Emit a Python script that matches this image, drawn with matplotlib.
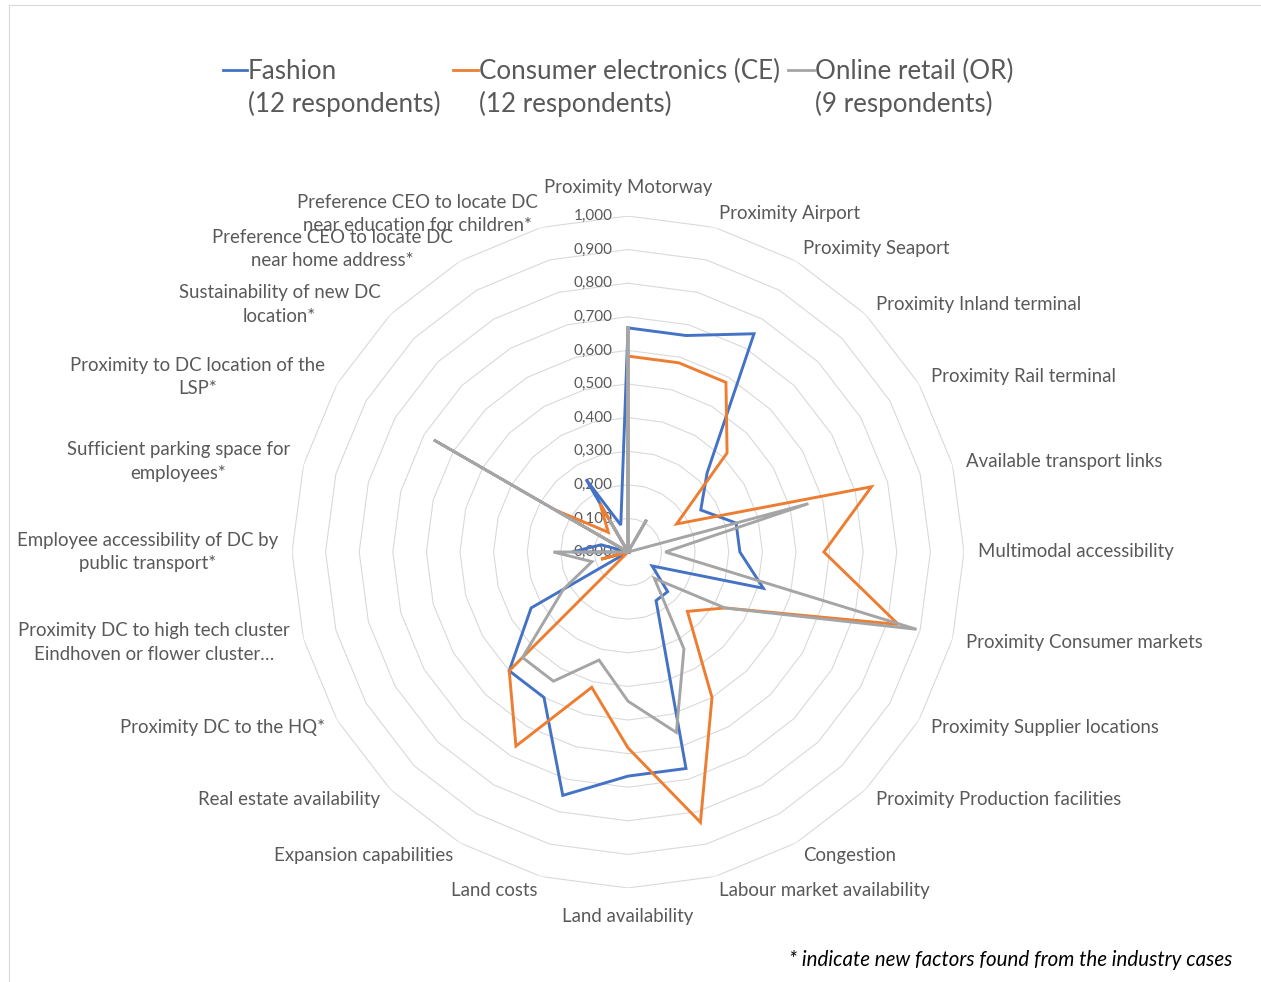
import numpy as np
import matplotlib.pyplot as plt
from matplotlib.patches import Rectangle

plt.rcParams['font.family'] = ['Lato', 'DejaVu Sans']

# location factors, clockwise from the top
factors = [
    "Proximity Motorway",
    "Proximity Airport",
    "Proximity Seaport",
    "Proximity Inland terminal",
    "Proximity Rail terminal",
    "Available transport links",
    "Multimodal accessibility",
    "Proximity Consumer markets",
    "Proximity Supplier locations",
    "Proximity Production facilities",
    "Congestion",
    "Labour market availability",
    "Land availability",
    "Land costs",
    "Expansion capabilities",
    "Real estate availability",
    "Proximity DC to the HQ*",
    "Proximity DC to high tech cluster\nEindhoven or flower cluster\u2026",
    "Employee accessibility of DC by\npublic transport*",
    "Sufficient parking space for\nemployees*",
    "Proximity to DC location of the\nLSP*",
    "Sustainability of new DC\nlocation*",
    "Preference CEO to locate DC\nnear home address*",
    "Preference CEO to locate DC\nnear education for children*",
]

fashion = [0.667, 0.667, 0.750, 0.333, 0.250, 0.333, 0.333, 0.417,
           0.083, 0.167, 0.167, 0.667, 0.667, 0.750, 0.500, 0.500,
           0.333, 0.000, 0.167, 0.083, 0.000, 0.000, 0.250, 0.083]
consumer_electronics = [0.583, 0.583, 0.583, 0.417, 0.167, 0.750, 0.583, 0.833,
                        0.333, 0.250, 0.500, 0.833, 0.583, 0.417, 0.667, 0.500,
                        0.000, 0.083, 0.000, 0.000, 0.250, 0.083, 0.167, 0.000]
online_retail = [0.667, 0.000, 0.111, 0.000, 0.000, 0.556, 0.111, 0.889,
                 0.333, 0.111, 0.333, 0.556, 0.444, 0.333, 0.444, 0.444,
                 0.222, 0.111, 0.222, 0.000, 0.667, 0.000, 0.111, 0.000]

series = [fashion, consumer_electronics, online_retail]
series_names = ["Fashion", "Consumer electronics (CE)", "Online retail (OR)"]
respondents = ["(12 respondents)", "(12 respondents)", "(9 respondents)"]
colors = ["#4472C4", "#ED7D31", "#A5A5A5"]

ring_levels = [0.0, 0.1, 0.2, 0.3, 0.4, 0.5, 0.6, 0.7, 0.8, 0.9, 1.0]
ring_labels = ["0,000", "0,100", "0,200", "0,300", "0,400", "0,500",
               "0,600", "0,700", "0,800", "0,900", "1,000"]

W, H = 1261, 982
fig = plt.figure(figsize=(W / 100, H / 100), dpi=100)

# chart frame
fig.patches.append(Rectangle((9 / W, -0.1), 1.2, 1.1 - 5 / H, transform=fig.transFigure,
                             fill=False, edgecolor="#d9d9d9", lw=0.8))

cx, cy, R = 628, 552, 336
ax = fig.add_axes([(cx - R) / W, 1 - (cy + R) / H, 2 * R / W, 2 * R / H],
                  projection="polar")
ax.set_theta_zero_location("N")
ax.set_theta_direction(-1)
ax.set_ylim(0, 1)
ax.set_xticks([])
ax.set_yticks([])
ax.grid(False)
ax.spines["polar"].set_visible(False)
ax.patch.set_visible(False)

n = len(factors)
theta = np.arange(n) * 2 * np.pi / n
theta_closed = np.append(theta, theta[0])

# polygon gridlines
for lvl in ring_levels[1:]:
    ax.plot(theta_closed, [lvl] * (n + 1), color="#d9d9d9", lw=0.8, zorder=1)

for lvl, lbl in zip(ring_levels, ring_labels):
    ax.annotate(lbl, xy=(0, lvl), xytext=(-15, 0), textcoords="offset pixels",
                ha="right", va="center", color="#595959", fontsize=11,
                annotation_clip=False, zorder=2)

for vals, c in zip(series, colors):
    ax.plot(theta_closed, vals + vals[:1], color=c, lw=2.1, zorder=3,
            solid_joinstyle="miter")

# category labels
for t, name in zip(theta, factors):
    s = np.sin(t)
    r = 1.042
    if abs(s) < 1e-6:
        ha = "center"
        va = "bottom" if np.cos(t) > 0 else "top"
        r = 1.06
    else:
        ha = "left" if s > 0 else "right"
        va = "center"
    ax.text(t, r, name, ha=ha, va=va, multialignment="center",
            color="#595959", fontsize=13.4, linespacing=1.45)

# legend
legend_x = [(223, 248), (453, 479), (788, 815)]
for (x0, x1), name, resp, c in zip(legend_x, series_names, respondents, colors):
    fig.add_artist(plt.Line2D([x0 / W, (x1 - 1) / W], [1 - 69.5 / H] * 2,
                              color=c, lw=2.0, transform=fig.transFigure))
    fig.text(x1 / W, 1 - 79 / H, name, ha="left", va="baseline",
             color="#595959", fontsize=18.7)
    fig.text(x1 / W, 1 - 112 / H, resp, ha="left", va="baseline",
             color="#595959", fontsize=18.7)

fig.text(1232 / W, 1 - 960 / H, "* indicate new factors found from the industry cases",
         ha="right", va="center", fontsize=14.8, style="italic", color="black")

fig.savefig("out.png", dpi=100)
